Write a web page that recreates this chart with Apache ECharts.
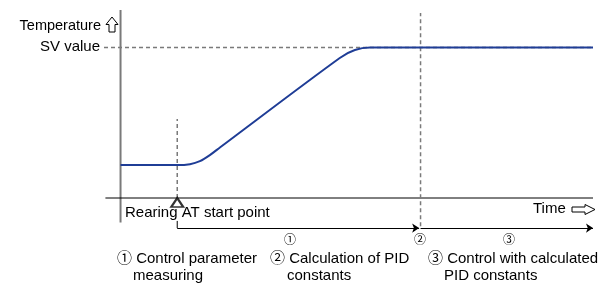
<!DOCTYPE html>
<html>
<head>
<meta charset="utf-8">
<script src="https://cdn.jsdelivr.net/npm/echarts@6/dist/echarts.min.js"></script>
<style>
  html, body { margin: 0; background: #fff; }
  #chart { width: 605px; height: 286px; }
</style>
</head>
<body>
<div id="chart"></div>
<script>
// time and temperature in arbitrary units (time 0..100, temperature 0..100)
const svValue = 80
const atStart = 12
const calcEnd = 63.5
const timeEnd = 100
const curveTime = [0, 12, 14.7, 16.8, 18.9, 21.1, 46.4, 49.6, 52.8, 100]
const curveTemp = [17.5, 17.5, 18.0, 19.6, 22.8, 27.0, 74.5, 78.7, 80, 80]

const phaseMarks = ['①', '②', '③']
const phaseText = [
  ['① Control parameter', 'measuring'],
  ['② Calculation of PID', 'constants'],
  ['③ Control with calculated', 'PID constants']
]

const FONT = '"Liberation Sans", Arial, "Noto Sans CJK JP", sans-serif'
const GREY = '#7a7a7a'
const BLUE = '#1f3d96'

const chart = echarts.init(document.getElementById('chart'), null, { renderer: 'canvas' })

function seg(data, color, width, type) {
  return {
    type: 'line',
    data: data,
    symbol: 'none',
    silent: true,
    lineStyle: { color: color, width: width, type: type || 'solid' }
  }
}

const dashed = [4, 3]

chart.setOption({
  animation: false,
  grid: { left: 104, right: 12, top: 10, bottom: 50.4 },
  xAxis: { type: 'value', min: -3.5, max: timeEnd, show: false },
  yAxis: { type: 'value', min: -20, max: 100, show: false },
  textStyle: { fontFamily: FONT },
  series: [
    // temperature axis
    seg([[0, -13], [0, 100]], GREY, 2),
    // time axis
    seg([[-3.2, 0], [timeEnd, 0]], '#000', 1),
    // SV value guide
    seg([[-3.5, svValue], [timeEnd, svValue]], GREY, 1.5, dashed),
    // AT start guide
    seg([[atStart, 0], [atStart, 42]], GREY, 1.5, dashed),
    // end of PID calculation
    seg([[calcEnd, -15], [calcEnd, 98.4]], GREY, 1.5, dashed),
    // bracket under the start point
    seg([[atStart, -12.2], [atStart, -16]], '#000', 1),
    // temperature curve
    {
      type: 'line',
      data: curveTime.map((t, i) => [t, curveTemp[i]]),
      symbol: 'none',
      smooth: 0.3,
      lineStyle: { color: BLUE, width: 2 },
      z: 5
    },
    // AT start marker
    {
      type: 'scatter',
      data: [[atStart, 0]],
      symbol: 'triangle',
      symbolSize: [12, 9],
      symbolOffset: [0, 4.5],
      itemStyle: { color: '#fff', borderColor: '#000', borderWidth: 2 },
      z: 6
    },
    // phase arrows
    {
      type: 'lines',
      coordinateSystem: 'cartesian2d',
      symbol: ['none', 'arrow'],
      symbolSize: 7,
      lineStyle: { color: '#000', width: 1, opacity: 1 },
      data: [
        { coords: [[atStart, -16], [calcEnd - 0.3, -16]] },
        { coords: [[calcEnd, -16], [timeEnd, -16]] }
      ]
    }
  ],
  graphic: [
    { type: 'text', x: 101, y: 19, style: { text: 'Temperature', font: '14.5px ' + FONT, fill: '#000', align: 'right' } },
    { type: 'polygon', shape: { points: [[112, 17], [118, 24.5], [115, 24.5], [115, 32], [109, 32], [109, 24.5], [106, 24.5]] },
      style: { fill: '#fff', stroke: '#000', lineWidth: 1 } },
    { type: 'text', x: 100, y: 39, style: { text: 'SV value', font: '15px ' + FONT, fill: '#000', align: 'right' } },
    { type: 'text', left: 125, top: 205, style: { text: 'Rearing AT start point', font: '15px ' + FONT, fill: '#000' } },
    { type: 'text', left: 533, top: 201, style: { text: 'Time', font: '15px ' + FONT, fill: '#000' } },
    { type: 'polygon', shape: { points: [[572, 207], [585, 207], [585, 204.5], [595, 209.5], [585, 214.5], [585, 212], [572, 212]] },
      style: { fill: '#fff', stroke: '#000', lineWidth: 1 } },
    ...phaseMarks.map((m, i) => ({
      type: 'text', left: [284, 414, 503][i], top: 233,
      style: { text: m, font: '12px "Noto Sans CJK JP", sans-serif', fill: '#000' }
    })),
    ...phaseText.map((p, i) => ({
      type: 'text', left: [117, 270, 428][i], top: 251,
      style: { text: p[0], font: '15px ' + FONT, fill: '#000' }
    })),
    ...phaseText.map((p, i) => ({
      type: 'text', left: [133, 287, 444][i], top: 268,
      style: { text: p[1], font: '15px ' + FONT, fill: '#000' }
    }))
  ]
})
</script>
</body>
</html>
